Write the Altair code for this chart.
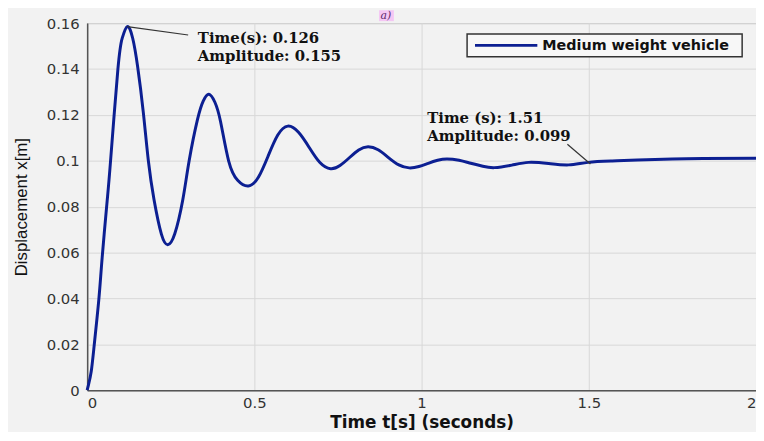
import altair as alt
import pandas as pd

# ---- data ----
t_vals = [0.0, 0.004, 0.012, 0.021, 0.035, 0.045, 0.060, 0.070, 0.092, 0.105, 0.120,
          0.136, 0.151, 0.168, 0.183, 0.200, 0.222, 0.241, 0.262, 0.286, 0.305, 0.330, 0.347, 0.364,
          0.382, 0.399, 0.423, 0.450, 0.482, 0.512, 0.541, 0.570, 0.600, 0.632, 0.664, 0.696, 0.728,
          0.756, 0.784, 0.812, 0.840, 0.870, 0.900, 0.932, 0.963, 0.992, 1.020, 1.048, 1.076,
          1.112, 1.147, 1.183, 1.218, 1.270, 1.320, 1.380, 1.440, 1.498, 1.570,
          1.646, 1.750, 1.842, 2.000]
x_vals = [0.0, 0.0023, 0.008, 0.0195, 0.0397, 0.058, 0.0828, 0.100, 0.140, 0.1535, 0.1585,
          0.1535, 0.141, 0.121, 0.100, 0.083, 0.068, 0.0634, 0.0682, 0.083, 0.100, 0.118, 0.126, 0.129,
          0.1255, 0.117, 0.100, 0.0915, 0.0890, 0.0928, 0.102, 0.1112, 0.1151, 0.1124, 0.1058, 0.0992, 0.0965,
          0.0979, 0.1013, 0.1047, 0.1061, 0.1048, 0.1015, 0.0982, 0.0969, 0.0975, 0.0989, 0.1002, 0.1008,
          0.1002, 0.0989, 0.0976, 0.0970, 0.0981, 0.0993, 0.0988, 0.0982, 0.0993, 0.0999,
          0.1003, 0.1008, 0.1010, 0.1011]
series_name = "Medium weight vehicle"

x_ticks = [0, 0.5, 1, 1.5, 2]
y_ticks = [0, 0.02, 0.04, 0.06, 0.08, 0.1, 0.12, 0.14, 0.16]

ann_t = [0.331, 0.331, 1.017, 1.017]
ann_x = [0.1535, 0.1455, 0.1186, 0.1108]
ann_text = ["Time(s): 0.126", "Amplitude: 0.155", "Time (s): 1.51", "Amplitude: 0.099"]

ptr_t = [0.120, 1.436]
ptr_x = [0.1585, 0.1072]
ptr_t2 = [0.302, 1.505]
ptr_x2 = [0.1548, 0.0986]

df = pd.DataFrame({"t": t_vals, "x": x_vals, "series": series_name})
ann = pd.DataFrame({"t": ann_t, "x": ann_x, "text": ann_text})
ptr = pd.DataFrame({"t": ptr_t, "x": ptr_x, "t2": ptr_t2, "x2": ptr_x2})
leg = pd.DataFrame({"label": [series_name]})
tag = pd.DataFrame({"label": ["a)"]})

x_scale = alt.Scale(domain=[0, 2], nice=False)
y_scale = alt.Scale(domain=[0, 0.16], nice=False)

BLUE = "#0c1f92"

line = alt.Chart(df).mark_line(color=BLUE, strokeWidth=3, interpolate="natural").encode(
    x=alt.X("t:Q", scale=x_scale,
            axis=alt.Axis(values=x_ticks, format="~g", title="Time t[s] (seconds)",
                          titleFont="DejaVu Sans", titleFontSize=17, titleFontWeight="bold",
                          titleColor="#111", titlePadding=4,
                          labelFont="DejaVu Sans", labelFontSize=15, labelColor="#333",
                          labelPadding=6, ticks=False, grid=True, gridColor="#d8d8d8",
                          domainColor="#555", domainWidth=1.5)),
    y=alt.Y("x:Q", scale=y_scale,
            axis=alt.Axis(values=y_ticks, format="~g", title="Displacement x[m]",
                          titleFont="Liberation Sans", titleFontSize=17, titleFontWeight="normal",
                          titleColor="#111", titlePadding=16,
                          labelFont="DejaVu Sans", labelFontSize=15, labelColor="#333",
                          labelPadding=8, ticks=False, grid=True, gridColor="#d8d8d8",
                          domainColor="#555", domainWidth=1.5)),
)

pointers = alt.Chart(ptr).mark_rule(color="#333", strokeWidth=1.2).encode(
    x="t:Q", y="x:Q", x2="t2:Q", y2="x2:Q"
)

texts = alt.Chart(ann).mark_text(align="left", baseline="middle", font="DejaVu Serif",
                                 fontSize=15, fontWeight="bold", color="#111").encode(
    x="t:Q", y="x:Q", text="text:N"
)

leg_box = alt.Chart(leg).mark_rect(fill="#f7f7f7", stroke="#333", strokeWidth=1.5).encode(
    x=alt.value(384), x2=alt.value(662), y=alt.value(11), y2=alt.value(34)
)
leg_line = alt.Chart(leg).mark_rule(color=BLUE, strokeWidth=3).encode(
    x=alt.value(392), x2=alt.value(455), y=alt.value(22.5)
)
leg_text = alt.Chart(leg).mark_text(align="left", baseline="middle", font="DejaVu Sans",
                                    fontSize=14.5, fontWeight="bold", color="#111").encode(
    x=alt.value(460), y=alt.value(23), text="label:N"
)

tag_bg = alt.Chart(tag).mark_rect(fill="#f4c6f4").encode(
    x=alt.value(295), x2=alt.value(310), y=alt.value(-13), y2=alt.value(-2)
)
tag_text = alt.Chart(tag).mark_text(align="center", baseline="bottom", font="DejaVu Serif",
                                    fontSize=11, fontStyle="italic", color="#5a2a6a").encode(
    x=alt.value(302), y=alt.value(-2), text="label:N"
)

chart = alt.layer(line, pointers, texts, leg_box, leg_line, leg_text, tag_bg, tag_text).properties(
    width=676, height=371,
    autosize=alt.AutoSizeParams(type="none"),
    padding={"left": 80, "top": 13, "right": 0, "bottom": 40},
    background="#f2f2f2",
).configure_view(stroke="#9a9a9a", strokeWidth=1, fill="#f2f2f2")

chart.save("out.html", embed_options={"renderer": "svg", "actions": False})
